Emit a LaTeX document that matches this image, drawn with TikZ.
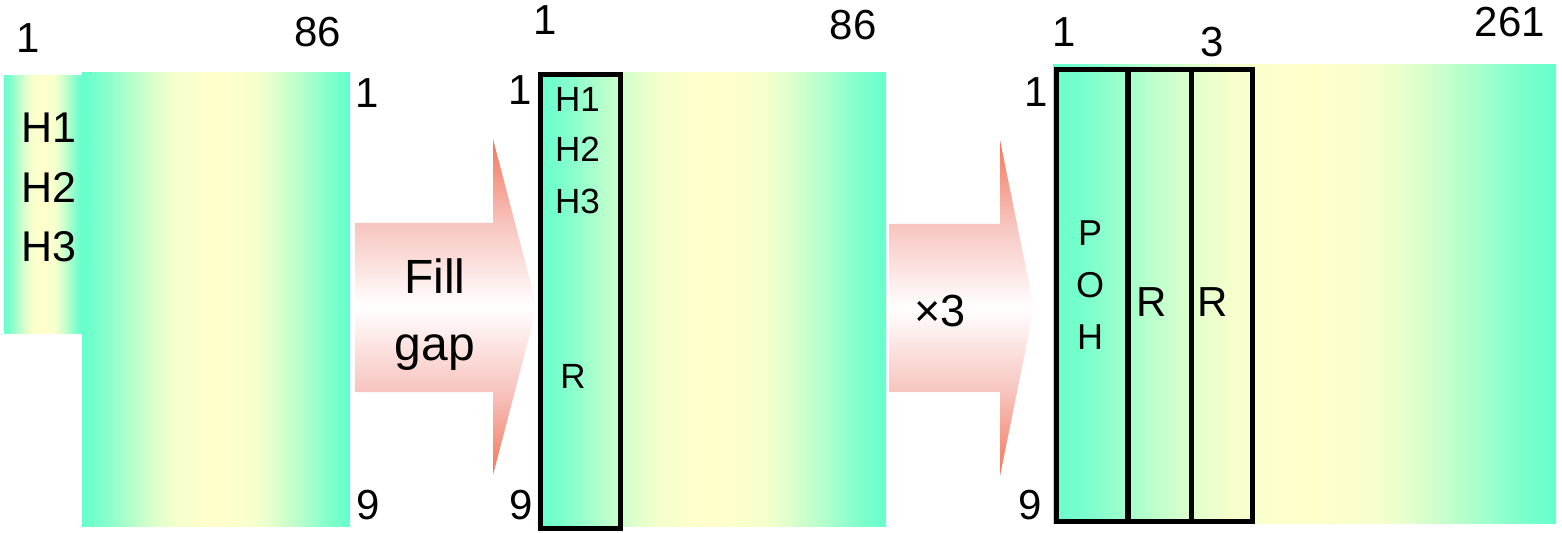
\documentclass[tikz,border=0pt]{standalone}
\usepackage{fontspec}
\setmainfont{Liberation Sans}
\definecolor{aq}{RGB}{102,255,204}
\definecolor{yl}{RGB}{255,255,204}
\definecolor{salm}{RGB}{243,118,92}
\definecolor{pk}{RGB}{247,196,190}
\colorlet{aqA}{aq!88!yl}
\colorlet{aqB}{aq!70!yl}
\colorlet{aqC}{aq!50!yl}
\colorlet{aqD}{aq!32!yl}
\colorlet{aqE}{aq!16!yl}
\colorlet{aqF}{aq!5!yl}
\pgfdeclareverticalshading{arrowshade}{100bp}{color(0bp)=(salm); color(25bp)=(salm); color(37.5bp)=(pk); color(50bp)=(white); color(62.5bp)=(pk); color(75bp)=(salm); color(100bp)=(salm)}
\pgfdeclarehorizontalshading{bandshade}{100bp}{color(0bp)=(aq); color(25bp)=(aq); color(28bp)=(aqA); color(31bp)=(aqB); color(34bp)=(aqC); color(37bp)=(aqD); color(40bp)=(aqE); color(43bp)=(aqF); color(49bp)=(yl); color(51bp)=(yl); color(57bp)=(aqF); color(60bp)=(aqE); color(63bp)=(aqD); color(66bp)=(aqC); color(69bp)=(aqB); color(72bp)=(aqA); color(75bp)=(aq); color(100bp)=(aq)}
\begin{document}
\begin{tikzpicture}[x=1bp,y=-1bp,
  band/.style={shading=bandshade,draw=none},
  blockarrow/.style={shading=arrowshade,draw=none},
  outline/.style={draw=black,line width=5bp},
  lbl/.style={font=\fontsize{42bp}{48bp}\selectfont,inner sep=0pt},
  hlbl/.style={font=\fontsize{43bp}{48bp}\selectfont,inner sep=0pt,anchor=west},
  slbl/.style={font=\fontsize{35bp}{40bp}\selectfont,inner sep=0pt},
  big/.style={font=\fontsize{48bp}{54bp}\selectfont,inner sep=0pt}]
\useasboundingbox (0,0) rectangle (1562,533);
% ---------- panel 1 ----------
\path[band] (4,76) rectangle (82,333);
\path[band] (82,73) rectangle (350,526);
\node[lbl] (p1top1) at (28,38) {1};
\node[lbl] (p1top86) at (318,32) {86};
\node[lbl] (p1r1) at (367,93) {1};
\node[lbl] (p1r9) at (368,505) {9};
\node[hlbl] (p1h1) at (21,128) {H1};
\node[hlbl] (p1h2) at (21,187) {H2};
\node[hlbl] (p1h3) at (21,247) {H3};
% ---------- arrow 1 ----------
\path[blockarrow] (355,223) -- (493,223) -- (493,139) -- (537,307) -- (493,475) -- (493,392) -- (355,392) -- cycle;
\node[big] (fill) at (435,276) {Fill};
\node[big,anchor=base] (gap) at (435,360) {gap};
% ---------- panel 2 ----------
\path[band] (538,73) rectangle (886,526);
\draw[outline] (540,75) rectangle (620,528);
\node[lbl] (p2top1) at (545,20) {1};
\node[lbl] (p2top86) at (853,25) {86};
\node[lbl] (p2l1) at (520,90) {1};
\node[lbl] (p2l9) at (521,505) {9};
\node[slbl,anchor=west] (p2h1) at (555,99) {H1};
\node[slbl,anchor=west] (p2h2) at (555,149) {H2};
\node[slbl,anchor=west] (p2h3) at (555,201) {H3};
\node[slbl] (p2r) at (573,376) {R};
% ---------- arrow 2 ----------
\path[blockarrow] (889,224) -- (1000,224) -- (1000,140) -- (1034,308) -- (1000,476) -- (1000,392) -- (889,392) -- cycle;
\node[lbl,font=\fontsize{45bp}{50bp}\selectfont] (times3) at (940,311) {×3};
% ---------- panel 3 ----------
\path[band] (1053,65) rectangle (1556,523);
\draw[outline] (1056,70) rectangle (1252,521);
\draw[outline,line width=6bp] (1128,70) -- (1128,521);
\draw[outline] (1191,70) -- (1191,521);
\node[lbl] (p3top1) at (1064,32) {1};
\node[lbl] (p3top3) at (1212,42) {3};
\node[lbl] (p3top261) at (1510,22) {261};
\node[lbl] (p3l1) at (1036,92) {1};
\node[lbl] (p3l9) at (1030,505) {9};
\node[slbl,font=\fontsize{36bp}{40bp}\selectfont] (p3p) at (1090,233) {P};
\node[slbl,font=\fontsize{36bp}{40bp}\selectfont] (p3o) at (1090,285) {O};
\node[slbl,font=\fontsize{36bp}{40bp}\selectfont] (p3h) at (1090,337) {H};
\node[lbl] (p3r1) at (1152,302) {R};
\node[lbl] (p3r2) at (1213,302) {R};
\end{tikzpicture}
\end{document}
